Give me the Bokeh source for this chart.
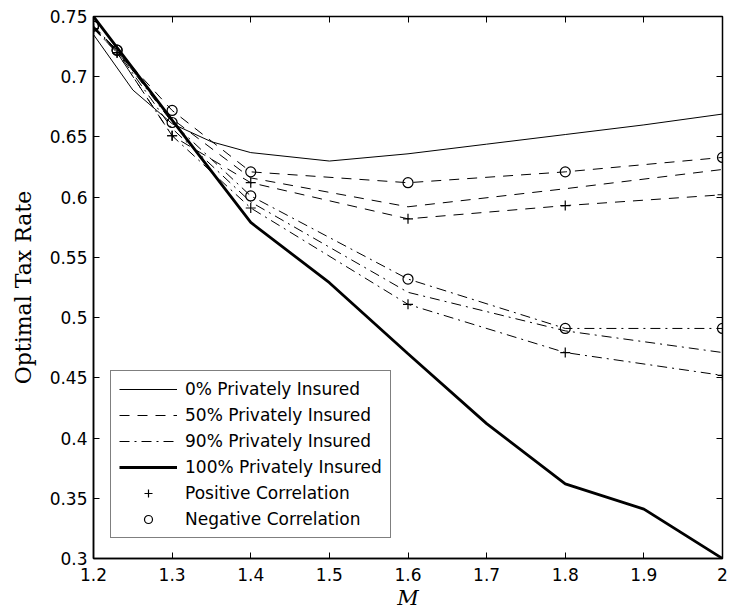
from bokeh.plotting import figure
from bokeh.models import ColumnDataSource, Legend, LegendItem, FixedTicker, LinearAxis
from bokeh.embed import file_html
from bokeh.resources import INLINE

# ---------------- data ----------------
X_TICKS = [1.2, 1.3, 1.4, 1.5, 1.6, 1.7, 1.8, 1.9, 2.0]
X_TICK_LABELS = ["1.2", "1.3", "1.4", "1.5", "1.6", "1.7", "1.8", "1.9", "2"]
Y_TICKS = [0.3, 0.35, 0.4, 0.45, 0.5, 0.55, 0.6, 0.65, 0.7, 0.75]
Y_TICK_LABELS = ["0.3", "0.35", "0.4", "0.45", "0.5", "0.55", "0.6", "0.65", "0.7", "0.75"]

# 0% privately insured
M_0 = [1.2, 1.25, 1.3, 1.35, 1.4, 1.5, 1.6, 1.7, 1.8, 1.9, 2.0]
TAX_0 = [0.735, 0.689, 0.661, 0.646, 0.637, 0.630, 0.636, 0.644, 0.652, 0.660, 0.669]

# 100% privately insured
M_100 = [1.2, 1.3, 1.4, 1.5, 1.6, 1.7, 1.8, 1.9, 2.0]
TAX_100 = [0.750, 0.664, 0.579, 0.529, 0.470, 0.412, 0.362, 0.341, 0.300]

# 50% / 90% privately insured, negative / no / positive correlation
M_CORR = [1.2, 1.23, 1.3, 1.4, 1.6, 1.8, 2.0]
TAX_50_NEG = [0.742, 0.722, 0.672, 0.621, 0.612, 0.621, 0.633]
TAX_50_ZERO = [0.741, 0.721, 0.665, 0.616, 0.592, 0.607, 0.623]
TAX_50_POS = [0.740, 0.720, 0.651, 0.612, 0.582, 0.593, 0.602]
TAX_90_NEG = [0.742, 0.722, 0.662, 0.601, 0.532, 0.491, 0.491]
TAX_90_ZERO = [0.741, 0.721, 0.657, 0.596, 0.521, 0.489, 0.471]
TAX_90_POS = [0.740, 0.720, 0.651, 0.591, 0.511, 0.471, 0.452]

LEGEND_LABELS = ["0% Privately Insured", "50% Privately Insured", "90% Privately Insured",
                 "100% Privately Insured", "Positive Correlation", "Negative Correlation"]

# ---------------- figure ----------------
p = figure(width=730, height=614, x_range=(1.2, 2.0), y_range=(0.3, 0.75),
           output_backend="svg", toolbar_location=None,
           min_border_left=93, min_border_right=8, min_border_top=16, min_border_bottom=56)
p.background_fill_color = "white"
p.border_fill_color = "white"
p.grid.visible = False
p.outline_line_color = "black"
p.outline_line_width = 1.5

TICK_FONT = "DejaVu Sans"

p.xaxis.ticker = FixedTicker(ticks=X_TICKS)
p.xaxis.major_label_overrides = dict(zip(X_TICKS, X_TICK_LABELS))
p.yaxis.ticker = FixedTicker(ticks=Y_TICKS)
p.yaxis.major_label_overrides = dict(zip(Y_TICKS, Y_TICK_LABELS))

for ax in (p.xaxis, p.yaxis):
    ax.major_tick_in = 6
    ax.major_tick_out = 0
    ax.minor_tick_line_color = None
    ax.axis_line_color = "black"
    ax.axis_line_width = 1.5
    ax.major_tick_line_color = "black"
    ax.major_label_text_font = TICK_FONT
    ax.major_label_text_font_size = "17px"
    ax.major_label_text_color = "black"

p.xaxis.major_label_standoff = 9
p.yaxis.major_label_standoff = 6

p.xaxis.axis_label = "M"
p.xaxis.axis_label_text_font = "DejaVu Serif"
p.xaxis.axis_label_text_font_style = "italic"
p.xaxis.axis_label_text_font_size = "21px"
p.xaxis.axis_label_standoff = 2
p.xaxis.axis_label_text_color = "black"

p.yaxis.axis_label = "Optimal Tax Rate"
p.yaxis.axis_label_text_font = "DejaVu Serif"
p.yaxis.axis_label_text_font_style = "normal"
p.yaxis.axis_label_text_font_size = "22px"
p.yaxis.axis_label_standoff = 11
p.yaxis.axis_label_text_color = "black"

# mirrored tick marks on top and right (no labels drawn)
top = LinearAxis(ticker=FixedTicker(ticks=X_TICKS), major_label_text_font_size="1px",
                 major_label_text_color=None,
                 major_tick_in=6, major_tick_out=0, minor_tick_line_color=None,
                 axis_line_color=None, major_label_standoff=0)
right = LinearAxis(ticker=FixedTicker(ticks=Y_TICKS), major_label_text_font_size="1px",
                   major_label_text_color=None,
                   major_tick_in=6, major_tick_out=0, minor_tick_line_color=None,
                   axis_line_color=None, major_label_standoff=0)
p.add_layout(top, "above")
p.add_layout(right, "right")

# ---------------- lines ----------------
DASH = "10 8"
DASHDOT = "10 5 2 5"

r0 = p.line(M_0, TAX_0, line_color="black", line_width=1)
r50n = p.line(M_CORR, TAX_50_NEG, line_color="black", line_width=1, line_dash=DASH)
r50z = p.line(M_CORR, TAX_50_ZERO, line_color="black", line_width=1, line_dash=DASH)
r50p = p.line(M_CORR, TAX_50_POS, line_color="black", line_width=1, line_dash=DASH)
r90n = p.line(M_CORR, TAX_90_NEG, line_color="black", line_width=1, line_dash=DASHDOT)
r90z = p.line(M_CORR, TAX_90_ZERO, line_color="black", line_width=1, line_dash=DASHDOT)
r90p = p.line(M_CORR, TAX_90_POS, line_color="black", line_width=1, line_dash=DASHDOT)
r100 = p.line(M_100, TAX_100, line_color="black", line_width=2.8)

pos_src = ColumnDataSource(dict(x=M_CORR + M_CORR, y=TAX_50_POS + TAX_90_POS))
neg_src = ColumnDataSource(dict(x=M_CORR + M_CORR, y=TAX_50_NEG + TAX_90_NEG))
rpos = p.scatter("x", "y", source=pos_src, marker="cross", size=10,
                 line_color="black", line_width=1.2)
rneg = p.scatter("x", "y", source=neg_src, marker="circle", size=10,
                 line_color="black", line_width=1.2, fill_color=None)

legend = Legend(items=[
    LegendItem(label=LEGEND_LABELS[0], renderers=[r0]),
    LegendItem(label=LEGEND_LABELS[1], renderers=[r50n]),
    LegendItem(label=LEGEND_LABELS[2], renderers=[r90n]),
    LegendItem(label=LEGEND_LABELS[3], renderers=[r100]),
    LegendItem(label=LEGEND_LABELS[4], renderers=[rpos]),
    LegendItem(label=LEGEND_LABELS[5], renderers=[rneg]),
], location=(17, 20))
legend.margin = 0
legend.padding = 8
legend.spacing = 6
legend.label_height = 20
legend.glyph_height = 20
legend.glyph_width = 58
legend.label_standoff = 8
legend.label_text_font = TICK_FONT
legend.label_text_font_size = "17px"
legend.label_text_color = "black"
legend.border_line_color = "black"
legend.border_line_width = 1.2
legend.background_fill_color = "white"
legend.background_fill_alpha = 1.0
p.add_layout(legend)

open("out.html", "w").write(file_html(p, INLINE))
